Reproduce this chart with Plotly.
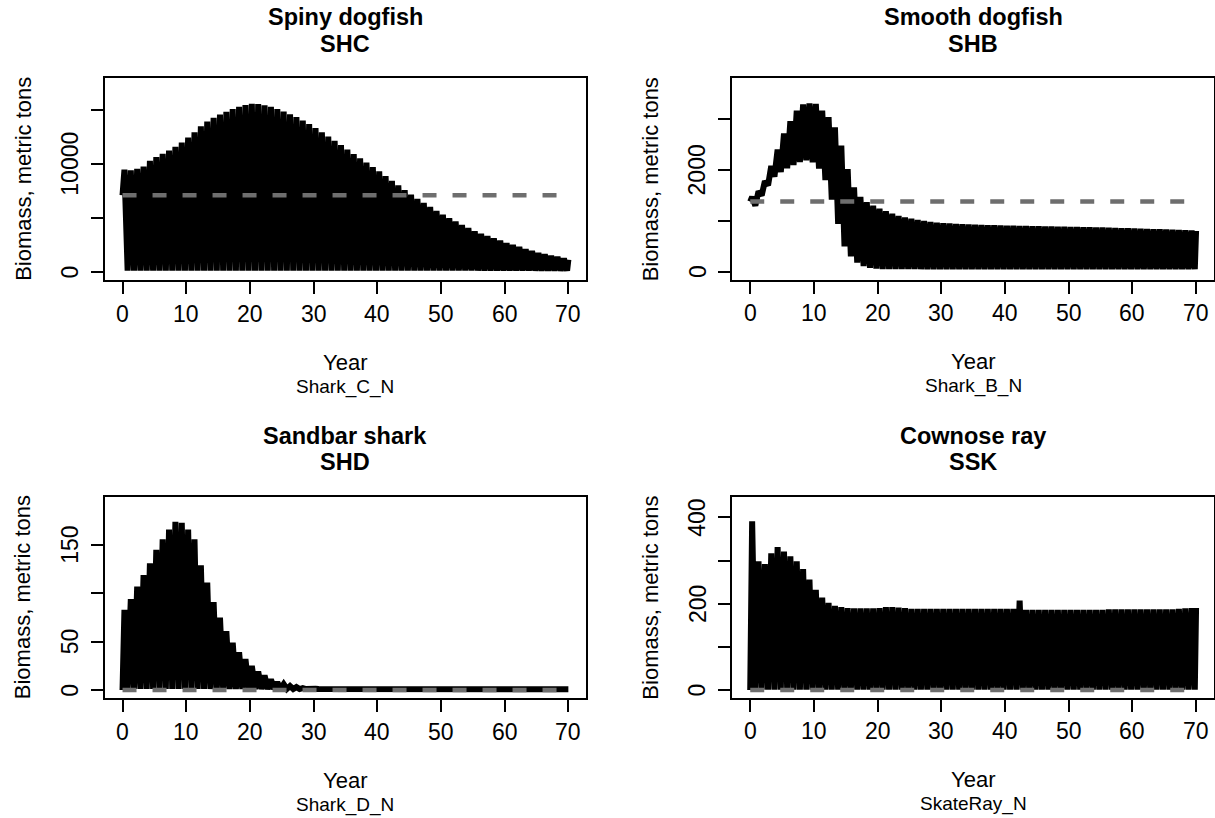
import plotly.graph_objects as go

# ---------------- data ----------------
# one peak and one trough per model year 0..69, plus start (year 0) and end (year 70)

# Spiny dogfish  (SHC / Shark_C_N)
shc_start = 7100
shc_peak = [9470, 9420, 9550, 9750, 10300, 10650, 10950, 11250, 11600, 12000,
            12450, 12950, 13500, 13950, 14300, 14600, 14850, 15100, 15300, 15480,
            15580, 15560, 15450, 15300, 15100, 14870, 14620, 14350, 14030, 13700,
            13340, 12950, 12550, 12150, 11750, 11330, 10930, 10520, 10120, 9720,
            9320, 8880, 8440, 8010, 7580, 7150, 6770, 6390, 6020, 5650,
            5290, 4970, 4660, 4350, 4050, 3750, 3530, 3310, 3100, 2880,
            2660, 2480, 2300, 2100, 1920, 1730, 1610, 1480, 1360, 1230]
shc_trough = [100, 100, 100, 100, 100, 100, 100, 100, 100, 100,
              100, 100, 100, 100, 100, 100, 100, 100, 100, 100,
              100, 100, 100, 100, 100, 100, 100, 100, 100, 100,
              100, 100, 100, 100, 100, 100, 100, 100, 100, 100,
              100, 100, 100, 100, 100, 100, 100, 100, 100, 100,
              100, 100, 100, 100, 100, 100, 100, 100, 100, 100,
              100, 100, 100, 100, 100, 100, 100, 100, 100, 100]
shc_end = 1110
shc_ref = 7100

# Smooth dogfish (SHB / Shark_B_N)
shb_start = 1380
shb_peak = [1470, 1580, 1780, 2080, 2400, 2720, 2960, 3170, 3290, 3310,
            3300, 3170, 3040, 2840, 2480, 2020, 1660, 1470, 1370, 1300,
            1240, 1190, 1140, 1100, 1070, 1045, 1020, 1000, 980, 965,
            955, 948, 942, 936, 931, 926, 921, 917, 913, 909,
            905, 903, 900, 898, 895, 893, 890, 888, 886, 884,
            882, 880, 877, 874, 871, 868, 865, 862, 858, 854,
            850, 846, 842, 838, 834, 830, 826, 822, 818, 812]
shb_trough = [1300, 1500, 1700, 1870, 1960, 2035, 2100, 2155, 2190, 2150,
              2030, 1800, 1420, 940, 500, 300, 180, 110, 75, 60,
              50, 50, 50, 50, 50, 50, 50, 50, 50, 50,
              50, 50, 50, 50, 50, 50, 50, 50, 50, 50,
              50, 50, 50, 50, 50, 50, 50, 50, 50, 50,
              50, 50, 50, 50, 50, 50, 50, 50, 50, 50,
              50, 50, 50, 50, 50, 50, 50, 50, 50, 50]
shb_end = 805
shb_ref = 1380

# Sandbar shark (SHD / Shark_D_N)
shd_start = 0
shd_peak = [83, 94, 107, 119, 131, 145, 156, 166, 174, 173,
            166, 156, 129, 111, 91, 75, 61, 49, 39, 32,
            25, 19, 15, 11, 8, 6, 4, 3, 2, 1.5,
            1.2, 1, 0.8, 0.8, 0.8, 0.8, 0.8, 0.8, 0.8, 0.8,
            0.8, 0.8, 0.8, 0.8, 0.8, 0.8, 0.8, 0.8, 0.8, 0.8,
            0.8, 0.8, 0.8, 0.8, 0.8, 0.8, 0.8, 0.8, 0.8, 0.8,
            0.8, 0.8, 0.8, 0.8, 0.8, 0.8, 0.8, 0.8, 0.8, 0.8]
shd_trough = [1, 1, 1, 1, 1, 1, 1, 1, 1, 1,
              1, 1, 1, 1, 1, 1, 1, 1, 1, 1,
              1, 1, 1, 1, 1, 1, 1, 1, 1, 1,
              1, 1, 1, 1, 1, 1, 1, 1, 1, 1,
              1, 1, 1, 1, 1, 1, 1, 1, 1, 1,
              1, 1, 1, 1, 1, 1, 1, 1, 1, 1,
              1, 1, 1, 1, 1, 1, 1, 1, 1, 1]
shd_end = 0.8
shd_ref = 0

# Cownose ray (SSK / SkateRay_N)
ssk_start = 0
ssk_peak = [391, 298, 292, 317, 331, 321, 310, 298, 280, 256,
            232, 214, 202, 195, 192, 190, 189, 189, 189, 189,
            190, 192, 192, 191, 190, 188, 188, 188, 188, 188,
            188, 188, 188, 188, 188, 188, 188, 188, 188, 188,
            188, 188, 207, 186, 186, 186, 186, 186, 186, 186,
            186, 186, 186, 186, 186, 186, 187, 187, 187, 187,
            187, 187, 187, 187, 187, 187, 187, 188, 189, 190]
ssk_trough = [1, 1, 1, 1, 1, 1, 1, 1, 1, 1,
              1, 1, 1, 1, 1, 1, 1, 1, 1, 1,
              1, 1, 1, 1, 1, 1, 1, 1, 1, 1,
              1, 1, 1, 1, 1, 1, 1, 1, 1, 1,
              1, 1, 1, 1, 1, 1, 1, 1, 1, 1,
              1, 1, 1, 1, 1, 1, 1, 1, 1, 1,
              1, 1, 1, 1, 1, 1, 1, 1, 1, 1]
ssk_end = 190
ssk_ref = 0

titles = [("Spiny dogfish", "SHC", "Shark_C_N"),
          ("Smooth dogfish", "SHB", "Shark_B_N"),
          ("Sandbar shark", "SHD", "Shark_D_N"),
          ("Cownose ray", "SSK", "SkateRay_N")]

x_ticks = [0, 10, 20, 30, 40, 50, 60, 70]
y_ticks = [[0, 5000, 10000, 15000], [0, 1000, 2000, 3000],
           [0, 50, 100, 150], [0, 100, 200, 300, 400]]
y_ticktext = [["0", "", "10000", ""], ["0", "", "2000", ""],
              ["0", "50", "", "150"], ["0", "", "200", "", "400"]]

series = [(shc_start, shc_peak, shc_trough, shc_end, shc_ref),
          (shb_start, shb_peak, shb_trough, shb_end, shb_ref),
          (shd_start, shd_peak, shd_trough, shd_end, shd_ref),
          (ssk_start, ssk_peak, ssk_trough, ssk_end, ssk_ref)]

# ---------------- layout geometry ----------------
W, H = 1215, 818
# plot boxes in pixels: (left, right, top, bottom)
boxes = [(104.7, 586.2, 78.3, 280.0),
         (732.4, 1213.9, 78.3, 279.5),
         (104.7, 586.2, 496.7, 698.3),
         (732.4, 1213.9, 496.7, 697.8)]
y_ranges = [[-771, 17957], [-153, 3805], [-8.6, 200], [-18, 448]]
x_range = [-2.8, 72.8]

FONT = "Liberation Sans, Arial, Helvetica, sans-serif"

fig = go.Figure()
annotations = []

for k, (start, peak, trough, end, ref) in enumerate(series):
    xs = [0]
    ys = [start]
    for i in range(len(peak)):
        xs += [i + 0.3, i + 0.8]
        ys += [peak[i], trough[i]]
    xs.append(70)
    ys.append(end)
    xa = "x" if k == 0 else f"x{k+1}"
    ya = "y" if k == 0 else f"y{k+1}"
    fig.add_trace(go.Scatter(x=xs, y=ys, mode="lines",
                             line=dict(color="black", width=6),
                             xaxis=xa, yaxis=ya, showlegend=False,
                             hoverinfo="skip"))
    fig.add_trace(go.Scatter(x=[0, 70], y=[ref, ref], mode="lines",
                             line=dict(color="#6e6e6e", width=4.5, dash="14px,16px"),
                             xaxis=xa, yaxis=ya, showlegend=False,
                             hoverinfo="skip"))

    l, r, t, b = boxes[k]
    xdom = [l / W, r / W]
    ydom = [1 - b / H, 1 - t / H]
    axis_common = dict(showline=True, linewidth=2, linecolor="black", mirror=True,
                       ticks="outside", ticklen=12, tickwidth=2, tickcolor="black",
                       showgrid=False, zeroline=False, showticklabels=False)
    xkey = "xaxis" if k == 0 else f"xaxis{k+1}"
    ykey = "yaxis" if k == 0 else f"yaxis{k+1}"
    fig.update_layout(**{
        xkey: dict(domain=xdom, range=x_range, tickvals=x_ticks,
                   anchor=ya, **axis_common),
        ykey: dict(domain=ydom, range=y_ranges[k], tickvals=y_ticks[k],
                   anchor=xa, **axis_common),
    })

    # tick labels (R style: y labels parallel to the axis)
    for xv in x_ticks:
        annotations.append(dict(text=str(xv), xref=xa, yref="paper",
                                x=xv, y=1 - (b + 33.5) / H,
                                font=dict(family=FONT, size=23, color="black")))
    for yv, yt in zip(y_ticks[k], y_ticktext[k]):
        if yt:
            annotations.append(dict(text=yt, xref="paper", yref=ya,
                                    x=(l - 35) / W, y=yv, textangle=-90,
                                    font=dict(family=FONT, size=23, color="black")))

    cx = (l + r) / 2
    name, code, sub = titles[k]
    annotations += [
        dict(text=f"<b>{name}</b>", xref="paper", yref="paper",
             x=cx / W, y=1 - (t - 61) / H,
             font=dict(family=FONT, size=23.5, color="black")),
        dict(text=f"<b>{code}</b>", xref="paper", yref="paper",
             x=cx / W, y=1 - (t - 34.5) / H,
             font=dict(family=FONT, size=23.5, color="black")),
        dict(text="Year", xref="paper", yref="paper",
             x=cx / W, y=1 - (b + 82) / H,
             font=dict(family=FONT, size=22, color="black")),
        dict(text=sub, xref="paper", yref="paper",
             x=cx / W, y=1 - (b + 106.5) / H,
             font=dict(family=FONT, size=19, color="black")),
        dict(text="Biomass, metric tons", xref="paper", yref="paper",
             x=(l - 82) / W, y=1 - ((t + b) / 2) / H,
             textangle=-90, font=dict(family=FONT, size=22, color="black")),
    ]

for a in annotations:
    a.update(showarrow=False, xanchor="center", yanchor="middle")

fig.update_layout(width=W, height=H, margin=dict(l=0, r=0, t=0, b=0),
                  paper_bgcolor="white", plot_bgcolor="white",
                  annotations=annotations, showlegend=False)

fig.write_html("out.html")
